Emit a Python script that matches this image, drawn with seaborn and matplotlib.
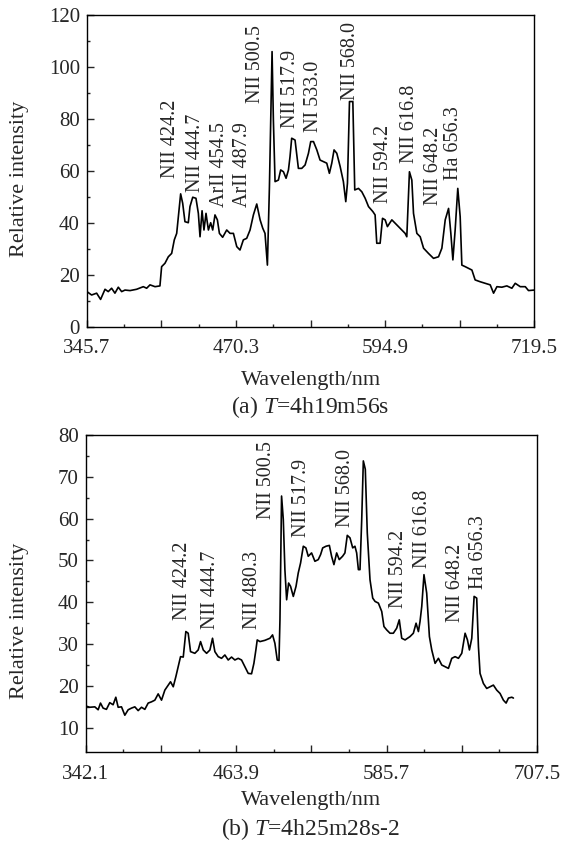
import numpy as np
import pandas as pd
import matplotlib
matplotlib.use("Agg")
import matplotlib.pyplot as plt
from matplotlib.ticker import FixedLocator, FixedFormatter
import seaborn as sns

# ---------------- data ----------------
wl_a = [345.7, 349.6, 353.8, 357.1, 360.8, 363.5, 366.3, 369.1, 371.9, 374.7, 377.5, 381.7,
        387.2, 392.8, 395.6, 398.4, 402.6, 406.7, 408.1, 410.9, 413.7, 416.5, 418.7, 420.7,
        422.1, 424.0, 425.7, 427.6, 430.4, 431.8, 434.1, 436.8, 438.8, 440.2, 441.9, 443.5,
        445.2, 447.2, 449.1, 450.8, 452.7, 454.7, 456.4, 459.1, 462.5, 465.3, 468.1, 470.9,
        473.6, 476.4, 479.2, 482.0, 484.8, 487.6, 490.4, 492.6, 494.5, 496.5, 498.2, 499.3,
        500.4, 501.5, 502.9, 505.7, 507.6, 509.9, 512.1, 514.1, 515.4, 516.8, 519.6, 522.4,
        525.2, 528.0, 530.8, 532.7, 535.0, 537.8, 540.5, 543.3, 546.1, 548.3, 550.3, 552.2,
        554.5, 557.3, 560.0, 562.0, 563.4, 565.1, 567.9, 569.5, 572.6, 575.4, 578.2, 581.0,
        584.6, 586.5, 587.9, 590.7, 592.7, 594.9, 596.8, 600.5, 603.3, 607.4, 611.6, 613.0,
        615.2, 617.2, 618.6, 621.4, 624.2, 627.0, 631.1, 635.3, 639.5, 642.3, 645.1, 647.9,
        649.8, 651.5, 653.4, 655.6, 657.6, 659.0, 661.8, 667.4, 670.1, 674.3, 678.5, 682.7,
        685.5, 688.3, 692.4, 696.6, 700.8, 703.6, 707.8, 712.0, 714.7, 719.5]
int_a = [13.6, 12.3, 13.0, 10.6, 14.5, 13.6, 14.9, 13.0, 15.3, 13.6, 14.2, 14.0,
         14.5, 15.5, 14.9, 16.2, 15.5, 15.8, 23.2, 24.5, 27.0, 28.3, 33.5, 36.0,
         42.4, 51.2, 47.6, 40.5, 40.1, 46.3, 49.9, 49.5, 43.7, 34.7, 44.7, 37.3,
         43.7, 37.3, 40.1, 37.3, 43.1, 41.2, 36.0, 34.5, 37.3, 36.0, 36.0, 30.9,
         29.6, 33.5, 34.1, 37.3, 43.1, 47.3, 41.2, 38.0, 36.0, 23.8, 54.0, 80.9,
         105.9, 79.6, 55.9, 56.5, 60.4, 59.7, 57.2, 60.4, 65.5, 72.6, 71.9, 61.0,
         61.0, 62.3, 66.8, 71.3, 71.3, 68.1, 64.2, 63.6, 63.0, 59.1, 63.0, 68.1,
         66.8, 61.7, 55.9, 48.2, 55.3, 86.7, 86.7, 52.7, 53.3, 52.0, 49.5, 46.3,
         44.4, 43.1, 32.2, 32.2, 41.8, 41.2, 38.6, 41.2, 39.9, 38.0, 36.0, 34.7,
         59.7, 56.5, 43.7, 36.0, 34.7, 30.3, 28.3, 26.4, 27.0, 30.3, 41.2, 45.6,
         36.0, 25.8, 37.3, 53.3, 42.4, 23.8, 23.2, 21.9, 18.1, 17.4, 16.8, 16.2,
         13.0, 15.5, 15.3, 15.8, 14.9, 16.8, 15.5, 15.5, 14.0, 14.2]

wl_b = [342.1, 345.3, 349.4, 352.1, 354.0, 356.1, 358.8, 361.5, 364.2, 366.4, 368.3, 371.0,
        373.7, 376.4, 379.1, 381.8, 384.5, 387.2, 389.9, 392.6, 395.3, 398.0, 400.7, 403.4,
        406.1, 408.8, 410.7, 412.9, 415.0, 416.9, 418.8, 421.0, 423.1, 425.0, 426.9, 430.4,
        433.1, 435.0, 437.2, 439.9, 442.6, 444.7, 446.6, 449.3, 452.0, 454.7, 457.4, 460.1,
        462.8, 465.5, 468.2, 470.9, 473.6, 476.3, 478.2, 479.8, 480.9, 483.1, 487.1, 491.2,
        493.3, 495.2, 497.1, 498.5, 499.3, 500.6, 502.0, 503.3, 504.7, 506.3, 507.9, 510.1,
        512.3, 514.1, 516.0, 518.2, 520.3, 522.2, 524.9, 527.6, 530.3, 532.2, 533.9, 536.6,
        539.3, 541.1, 543.0, 545.2, 547.3, 550.0, 551.9, 553.8, 556.0, 558.2, 560.0, 561.4,
        562.8, 564.1, 565.5, 566.8, 568.4, 570.0, 572.2, 574.4, 576.3, 579.0, 581.7, 583.5,
        585.7, 588.4, 591.1, 593.8, 595.9, 597.9, 600.6, 604.6, 607.3, 609.5, 611.4, 612.7,
        614.1, 615.9, 618.1, 620.3, 622.2, 624.9, 627.6, 630.3, 633.0, 635.7, 638.4, 641.1,
        643.8, 646.5, 649.2, 651.1, 652.7, 654.6, 656.5, 658.6, 660.0, 661.3, 664.0, 666.7,
        669.4, 672.1, 674.8, 677.5, 680.2, 682.4, 684.3, 687.0, 688.3]
int_b = [15.2, 14.9, 15.0, 14.3, 15.9, 14.7, 14.4, 16.0, 15.5, 17.3, 14.9, 15.0,
         13.0, 14.3, 14.7, 15.0, 14.1, 14.9, 14.4, 15.9, 16.2, 16.6, 18.1, 16.6,
         19.0, 20.2, 21.0, 19.8, 22.2, 24.6, 27.0, 26.9, 33.0, 32.6, 28.2, 27.8,
         28.6, 30.6, 28.6, 27.8, 28.6, 31.4, 28.2, 27.0, 26.6, 27.4, 26.2, 26.9,
         26.2, 26.6, 26.2, 24.6, 23.0, 22.9, 25.4, 28.6, 31.0, 30.6, 30.9, 31.4,
         32.2, 30.2, 26.2, 26.1, 35.8, 65.4, 59.8, 47.8, 40.6, 44.6, 43.8, 41.4,
         43.8, 47.0, 49.4, 53.4, 53.0, 51.0, 51.8, 49.8, 50.2, 51.4, 53.0, 53.4,
         53.6, 51.0, 49.0, 51.8, 50.2, 51.0, 51.8, 56.0, 55.4, 53.0, 53.4, 51.8,
         47.8, 47.8, 59.8, 73.8, 71.8, 56.6, 45.4, 41.0, 40.2, 39.8, 37.8, 34.2,
         33.4, 32.6, 32.6, 33.8, 35.8, 31.4, 31.0, 31.8, 32.6, 35.0, 33.0, 35.4,
         39.0, 46.6, 42.2, 31.8, 28.6, 25.4, 26.6, 25.0, 24.6, 24.2, 26.6, 27.0,
         26.6, 27.8, 32.6, 31.0, 28.6, 31.4, 41.4, 41.0, 29.4, 23.0, 20.6, 19.4,
         19.8, 20.2, 19.0, 18.2, 16.6, 15.9, 17.1, 17.3, 17.1]

labels_a = ["NII 424.2", "NII 444.7", "ArII 454.5", "ArII 487.9", "NII 500.5", "NII 517.9",
            "NI 533.0", "NII 568.0", "NII 594.2", "NII 616.8", "NII 648.2", "Ha 656.3"]
lab_x_a = [415.9, 436.0, 456.1, 476.1, 486.2, 515.5, 534.7, 565.6, 593.2, 614.9, 635.0, 651.7]
lab_y_a = [57.3, 51.9, 46.2, 46.2, 86.2, 76.5, 75.0, 87.3, 47.7, 63.1, 46.9, 56.5]

labels_b = ["NII 424.2", "NII 444.7", "NII 480.3", "NII 500.5", "NII 517.9", "NII 568.0",
            "NII 594.2", "NII 616.8", "NII 648.2", "Ha 656.3"]
lab_x_b = [420.7, 443.4, 477.4, 488.7, 517.1, 552.0, 594.9, 615.1, 641.1, 659.7]
lab_y_b = [35.8, 33.7, 33.7, 59.8, 55.5, 58.1, 38.7, 48.3, 35.4, 43.1]

xticks_a = ["345.7", "470.3", "594.9", "719.5"]
xticks_b = ["342.1", "463.9", "585.7", "707.5"]
ytick_a = [0, 20, 40, 60, 80, 100, 120]
ytick_b = [10, 20, 30, 40, 50, 60, 70, 80]

# ---------------- style ----------------
sns.set_style("ticks")
plt.rcParams["font.family"] = ["Liberation Serif", "DejaVu Serif"]
plt.rcParams["mathtext.fontset"] = "custom"
plt.rcParams["mathtext.rm"] = "Liberation Serif"
plt.rcParams["mathtext.it"] = "Liberation Serif:italic"
FS_TICK = 15
FS_LAB = 16
FS_CAP = 17
FS_PEAK = 14.5

fig = plt.figure(figsize=(5.72, 8.41), dpi=100)
ax1 = fig.add_axes([0.152, 0.6112, 0.782, 0.371])
ax2 = fig.add_axes([0.150, 0.1058, 0.789, 0.377])

df_a = pd.DataFrame({"wl": wl_a, "I": int_a})
df_b = pd.DataFrame({"wl": wl_b, "I": int_b})
sns.lineplot(data=df_a, x="wl", y="I", ax=ax1, color="black", lw=1.2, estimator=None)
sns.lineplot(data=df_b, x="wl", y="I", ax=ax2, color="black", lw=1.2, estimator=None)


def style_axis(ax, xlabels, yvals, ylim, yminor_step):
    xv = [float(v) for v in xlabels]
    x0, x1 = xv[0], xv[-1]
    step = (x1 - x0) / 6.0
    majors = [x0 + i * step for i in range(7)]
    minors = [x0 + (i + 0.5) * step for i in range(6)]
    ax.set_xlim(x0, x1)
    ax.xaxis.set_major_locator(FixedLocator(majors))
    ax.xaxis.set_major_formatter(FixedFormatter([xlabels[i // 2] if i % 2 == 0 else "" for i in range(7)]))
    ax.xaxis.set_minor_locator(FixedLocator(minors))
    ax.set_ylim(*ylim)
    ax.yaxis.set_major_locator(FixedLocator(yvals))
    ax.yaxis.set_major_formatter(FixedFormatter([str(v) for v in yvals]))
    ym = np.arange(yvals[0] + yminor_step, yvals[-1], yminor_step * 2)
    ax.yaxis.set_minor_locator(FixedLocator(list(ym)))
    ax.tick_params(axis="both", which="major", direction="in", length=5, width=1,
                   labelsize=FS_TICK, top=False, right=False)
    ax.tick_params(axis="x", which="major", pad=9)
    ax.tick_params(axis="y", which="major", pad=5)
    ax.tick_params(axis="both", which="minor", direction="in", length=2.5, width=1,
                   top=False, right=False)
    for s in ax.spines.values():
        s.set_linewidth(1.0)
        s.set_color("black")
    ax.set_xlabel("")
    ax.set_ylabel("")


style_axis(ax1, xticks_a, ytick_a, (0, 120), 10)
style_axis(ax2, xticks_b, ytick_b, (4.2, 80), 5)

for t, x, y in zip(labels_a, lab_x_a, lab_y_a):
    ax1.text(x, y, t, rotation=90, ha="center", va="bottom", fontsize=FS_PEAK)
for t, x, y in zip(labels_b, lab_x_b, lab_y_b):
    ax2.text(x, y, t, rotation=90, ha="center", va="bottom", fontsize=FS_PEAK)

H = 841.0
fig.text(20 / 572, 1 - 179 / H, "Relative intensity", rotation=90, ha="center", va="center", fontsize=FS_LAB)
fig.text(20 / 572, 1 - 621 / H, "Relative intensity", rotation=90, ha="center", va="center", fontsize=FS_LAB)
fig.text(311 / 572, 1 - 380 / H, "Wavelength/nm", ha="center", va="center", fontsize=FS_LAB)
fig.text(311 / 572, 1 - 800 / H, "Wavelength/nm", ha="center", va="center", fontsize=FS_LAB)
fig.text(310 / 572, 1 - 407 / H, r"(a) $T$=4h19m56s", ha="center", va="center", fontsize=FS_CAP)
fig.text(310 / 572, 1 - 829 / H, r"(b) $T$=4h25m28s-2", ha="center", va="center", fontsize=FS_CAP)

fig.savefig("out.png", dpi=100)
